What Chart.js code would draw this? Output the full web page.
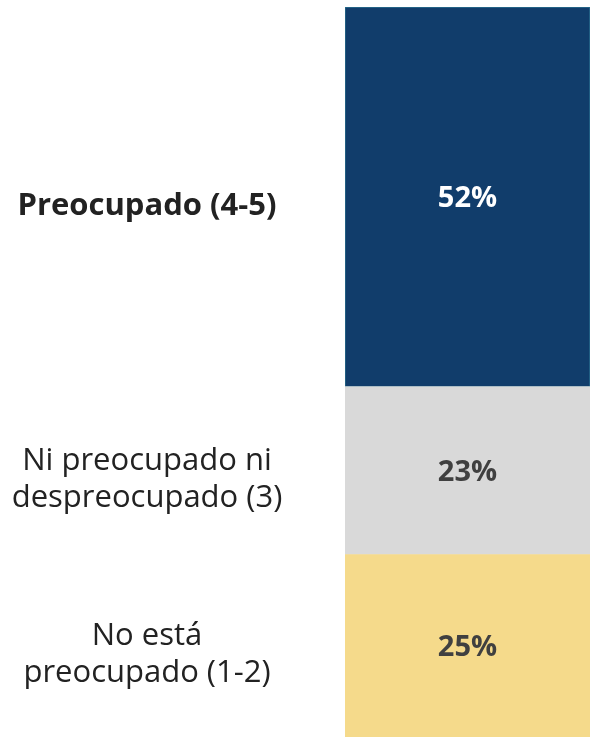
<!DOCTYPE html>
<html>
<head>
<meta charset="utf-8">
<script src="https://cdn.jsdelivr.net/npm/chart.js@4"></script>
<style>
  html, body { margin: 0; padding: 0; background: #ffffff; }
  #wrap { width: 590px; height: 737px; position: relative; }
</style>
</head>
<body>
<div id="wrap"><canvas id="chart"></canvas></div>
<script>
// Chart data, listed top segment first
const categories = ['Total'];
const seriesLabels = [
  ['Preocupado (4-5)'],
  ['Ni preocupado ni', 'despreocupado (3)'],
  ['No está', 'preocupado (1-2)']
];
const seriesValues = [52, 23, 25];
const seriesColors = ['#113d6b', '#d9d9d9', '#f5da8b'];
const valueColors = ['#ffffff', '#404040', '#404040'];
const labelBold = [true, false, false];

// stacked bars grow from the bottom, so the last series goes in first
const order = seriesValues.map((v, i) => i).reverse();

// Draws the category labels to the left and the percentages inside the bar
const segmentLabels = {
  id: 'segmentLabels',
  afterDatasetsDraw(chart) {
    const ctx = chart.ctx;
    ctx.save();
    ctx.textAlign = 'center';
    ctx.textBaseline = 'middle';
    chart.data.datasets.forEach((ds, j) => {
      const i = order[j];
      const bar = chart.getDatasetMeta(j).data[0];
      const midY = (bar.y + bar.base) / 2;

      // value inside the segment
      ctx.fillStyle = valueColors[i];
      ctx.font = 'bold 29px "Open Sans"';
      ctx.fillText(ds.data[0] + '%', bar.x, midY + 2);

      // text on the left
      const lines = seriesLabels[i];
      const lineH = 37;
      ctx.fillStyle = '#222222';
      ctx.font = (labelBold[i] ? 'bold ' : '') + '31px "Open Sans"';
      const startY = midY + 9 - (lines.length - 1) * lineH / 2;
      lines.forEach((ln, k) => {
        ctx.fillText(ln, 147, startY + k * lineH);
      });
    });
    ctx.restore();
  }
};

new Chart(document.getElementById('chart'), {
  type: 'bar',
  data: {
    labels: categories,
    datasets: order.map(i => ({
      label: seriesLabels[i].join(' '),
      data: [seriesValues[i]],
      backgroundColor: seriesColors[i],
      borderColor: i === 0 ? '#2a6f8f' : seriesColors[i],
      borderWidth: i === 0 ? 1 : 0,
      borderSkipped: false,
      categoryPercentage: 1,
      barPercentage: 1
    }))
  },
  options: {
    responsive: true,
    maintainAspectRatio: false,
    animation: false,
    layout: { padding: { top: 7, left: 345, right: 0, bottom: 0 } },
    plugins: {
      legend: { display: false },
      tooltip: { enabled: false }
    },
    scales: {
      x: { stacked: true, display: false },
      y: { stacked: true, display: false, min: 0, max: 100 }
    }
  },
  plugins: [segmentLabels]
});
</script>
</body>
</html>
